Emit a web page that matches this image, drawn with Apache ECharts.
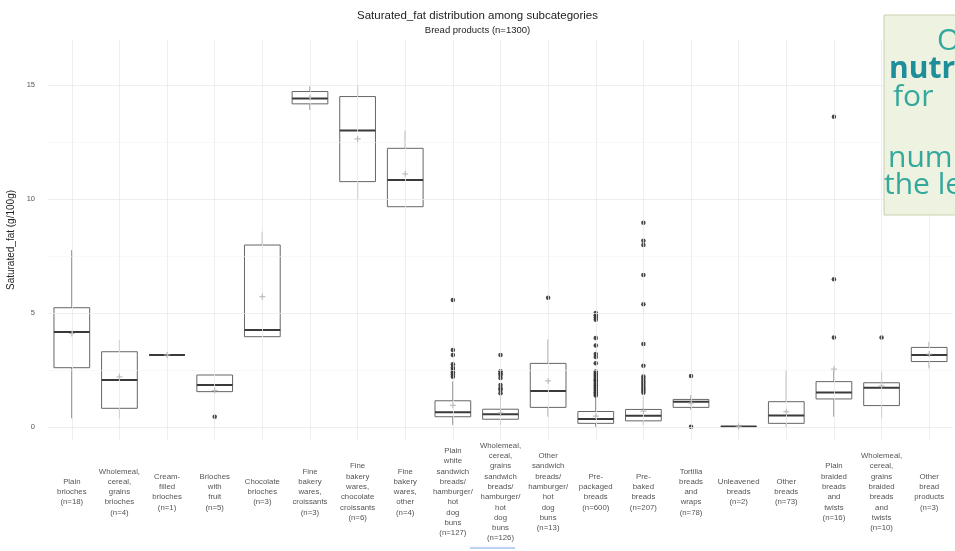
<!DOCTYPE html>
<html>
<head>
<meta charset="utf-8">
<script src="https://cdn.jsdelivr.net/npm/echarts@6/dist/echarts.min.js"></script>
<style>
  html, body { margin: 0; padding: 0; background: #ffffff; }
  #chart { width: 955px; height: 551px; }
</style>
</head>
<body>
<div id="chart"></div>
<script>
// Subcategory labels (with sample size) shown under the x axis
const categories = [
  'Plain\nbrioches\n(n=18)',
  'Wholemeal,\ncereal,\ngrains\nbrioches\n(n=4)',
  'Cream-\nfilled\nbrioches\n(n=1)',
  'Brioches\nwith\nfruit\n(n=5)',
  'Chocolate\nbrioches\n(n=3)',
  'Fine\nbakery\nwares,\ncroissants\n(n=3)',
  'Fine\nbakery\nwares,\nchocolate\ncroissants\n(n=6)',
  'Fine\nbakery\nwares,\nother\n(n=4)',
  'Plain\nwhite\nsandwich\nbreads/\nhamburger/\nhot\ndog\nbuns\n(n=127)',
  'Wholemeal,\ncereal,\ngrains\nsandwich\nbreads/\nhamburger/\nhot\ndog\nbuns\n(n=126)',
  'Other\nsandwich\nbreads/\nhamburger/\nhot\ndog\nbuns\n(n=13)',
  'Pre-\npackaged\nbreads\n(n=600)',
  'Pre-\nbaked\nbreads\n(n=207)',
  'Tortilla\nbreads\nand\nwraps\n(n=78)',
  'Unleavened\nbreads\n(n=2)',
  'Other\nbreads\n(n=73)',
  'Plain\nbraided\nbreads\nand\ntwists\n(n=16)',
  'Wholemeal,\ncereal,\ngrains\nbraided\nbreads\nand\ntwists\n(n=10)',
  'Other\nbread\nproducts\n(n=3)'
];

// Five-number summaries per subcategory (g/100g)
const whiskerLow  = [0.38, 0.38, 3.16, 1.55, 3.96, 13.90,  9.96,  9.66, 0.09, 0.09, 0.45, 0.01, 0.09, 0.75, 0.02, 0.00, 0.45, 0.38, 2.57];
const quartile1   = [2.60, 0.82, 3.16, 1.55, 3.96, 14.17, 10.76,  9.66, 0.45, 0.34, 0.86, 0.16, 0.27, 0.86, 0.02, 0.16, 1.23, 0.94, 2.87];
const medians     = [4.17, 2.06, 3.16, 1.84, 4.25, 14.41, 13.00, 10.83, 0.65, 0.56, 1.58, 0.35, 0.49, 1.11, 0.02, 0.50, 1.51, 1.72, 3.16];
const quartile3   = [5.23, 3.30, 3.16, 2.28, 7.98, 14.71, 14.49, 12.22, 1.15, 0.78, 2.79, 0.68, 0.77, 1.21, 0.02, 1.11, 1.99, 1.94, 3.49];
const whiskerHigh = [7.76, 3.82, 3.16, 2.28, 8.57, 14.93, 15.00, 13.00, 2.00, 1.35, 3.85, 1.33, 1.35, 1.40, 0.02, 2.50, 2.50, 2.43, 3.74];
const means       = [4.10, 2.20, 3.16, 1.60, 5.72, 14.45, 12.63, 11.10, 0.95, 0.62, 2.02, 0.48, 0.70, 1.05, 0.02, 0.67, 2.54, 1.80, 3.20];

// Outlying products per subcategory (index into categories)
const outlierCategory = [
  3,
  8, 8, 8, 8, 8, 8, 8, 8, 8,
  9, 9, 9, 9, 9, 9, 9, 9, 9,
  10,
  11, 11, 11, 11, 11, 11, 11, 11, 11, 11, 11, 11, 11, 11, 11, 11, 11, 11, 11, 11, 11, 11, 11, 11,
  12, 12, 12, 12, 12, 12, 12, 12, 12, 12, 12, 12, 12, 12, 12,
  13, 13,
  16, 16, 16,
  17
];
const outlierValue = [
  0.45,
  5.57, 3.38, 3.16, 2.75, 2.60, 2.50, 2.40, 2.30, 2.20,
  3.16, 2.45, 2.35, 2.28, 2.15, 1.84, 1.70, 1.62, 1.48,
  5.67,
  5.00, 4.90, 4.80, 4.70, 3.90, 3.57, 3.20, 3.07, 2.80, 2.43, 2.35, 2.28, 2.20, 2.12, 2.05, 1.98, 1.90, 1.82, 1.75, 1.68, 1.60, 1.52, 1.45, 1.38,
  8.96, 8.17, 7.98, 6.67, 5.38, 3.64, 2.69, 2.21, 2.10, 2.00, 1.90, 1.80, 1.70, 1.60, 1.50,
  2.24, 0.01,
  13.60, 6.48, 3.93,
  3.93
];

// Axis ticks and gridlines
const yMajorTicks = [0, 5, 10, 15];
const yMinorTicks = [2.5, 7.5, 12.5];

const boxData = categories.map((c, i) =>
  [i, whiskerLow[i], quartile1[i], medians[i], quartile3[i], whiskerHigh[i]]);
const meanData = categories.map((c, i) => [i, means[i]]);
const outlierData = outlierValue.map((v, k) => [outlierCategory[k], v]);

const chart = echarts.init(document.getElementById('chart'), null, { renderer: 'canvas' });

// Box, whiskers and median bar for one subcategory
function renderBox(params, api) {
  const x = api.value(0);
  const lo = api.coord([x, api.value(1)]);
  const q1 = api.coord([x, api.value(2)]);
  const md = api.coord([x, api.value(3)]);
  const q3 = api.coord([x, api.value(4)]);
  const hi = api.coord([x, api.value(5)]);
  const bw = api.size([1, 0])[0] * 0.75;
  const cx = md[0];
  const left = cx - bw / 2;
  const boxStroke = '#666666';
  return {
    type: 'group',
    children: [
      { type: 'line', shape: { x1: cx, y1: hi[1], x2: cx, y2: q3[1] },
        style: { stroke: boxStroke, lineWidth: 0.9 } },
      { type: 'line', shape: { x1: cx, y1: q1[1], x2: cx, y2: lo[1] },
        style: { stroke: boxStroke, lineWidth: 0.9 } },
      { type: 'rect', shape: { x: left, y: q3[1], width: bw, height: Math.max(q1[1] - q3[1], 0) },
        style: { fill: '#ffffff', stroke: boxStroke, lineWidth: 1 } },
      { type: 'line', shape: { x1: left, y1: md[1], x2: left + bw, y2: md[1] },
        style: { stroke: '#3a3a3a', lineWidth: 2 } }
    ]
  };
}

const gridLineStyle = { color: '#eaeaea', width: 0.8, type: 'solid' };
const minorLineStyle = { color: '#f4f4f4', width: 0.6, type: 'solid' };

chart.setOption({
  animation: false,
  backgroundColor: '#ffffff',
  title: {
    text: 'Saturated_fat distribution among subcategories',
    subtext: 'Bread products (n=1300)',
    left: 'center',
    top: 5,
    itemGap: 3,
    textStyle: { fontFamily: 'Liberation Sans', fontSize: 11.5, fontWeight: 'normal', color: '#222222' },
    subtextStyle: { fontFamily: 'Liberation Sans', fontSize: 9.5, color: '#222222' }
  },
  grid: { left: 48, right: 2, top: 40, bottom: 111, containLabel: false, outerBoundsMode: 'none' },
  xAxis: {
    type: 'category',
    data: categories,
    boundaryGap: true,
    axisLine: { show: false },
    axisTick: { show: false },
    splitLine: { show: false },
    axisLabel: {
      interval: 0,
      hideOverlap: false,
      fontFamily: 'Liberation Sans',
      fontSize: 7.8,
      lineHeight: 10.3,
      color: '#555555',
      verticalAlign: 'middle',
      align: 'center',
      margin: 52
    }
  },
  yAxis: {
    type: 'value',
    min: -0.57,
    max: 16.97,
    splitNumber: 4,
    name: 'Saturated_fat (g/100g)',
    nameLocation: 'middle',
    nameRotate: 90,
    nameGap: 30,
    nameTextStyle: { fontFamily: 'Liberation Sans', fontSize: 10, color: '#222222' },
    axisLine: { show: false },
    axisTick: { show: false },
    splitLine: { show: false },
    axisLabel: {
      fontFamily: 'Liberation Sans',
      fontSize: 7.5,
      color: '#555555',
      margin: 13,
      showMinLabel: false,
      showMaxLabel: false,
      formatter: v => (yMajorTicks.indexOf(Math.round(v * 100) / 100) >= 0 ? String(Math.round(v)) : '')
    }
  },
  series: [
    {
      name: 'grid',
      type: 'line',
      data: [],
      silent: true,
      markLine: {
        silent: true,
        symbol: 'none',
        label: { show: false },
        animation: false,
        data: [
          ...yMinorTicks.map(v => ({ yAxis: v, lineStyle: minorLineStyle })),
          ...yMajorTicks.map(v => ({ yAxis: v, lineStyle: gridLineStyle })),
          ...categories.map(c => ({ xAxis: c, lineStyle: gridLineStyle }))
        ]
      }
    },
    {
      name: 'boxes',
      type: 'custom',
      renderItem: renderBox,
      data: boxData,
      encode: { x: 0, y: [1, 2, 3, 4, 5] },
      z: 3
    },
    {
      name: 'outliers',
      type: 'scatter',
      data: outlierData,
      symbol: 'circle',
      symbolSize: 4.5,
      itemStyle: { color: '#333333', opacity: 0.9 },
      z: 4
    },
    {
      name: 'means',
      type: 'scatter',
      data: meanData,
      symbol: 'path://M4,0 L6,0 L6,4 L10,4 L10,6 L6,6 L6,10 L4,10 L4,6 L0,6 L0,4 L4,4 Z',
      symbolSize: 6,
      itemStyle: { color: '#b0b0b0' },
      z: 5
    }
  ],
  graphic: [
    {
      type: 'rect',
      shape: { x: 884, y: 15, width: 80, height: 200 },
      style: { fill: '#eef2e1', stroke: '#c9d2ad', lineWidth: 1 },
      z: 100
    },
    { type: 'text', x: 937, y: 41, z: 101,
      style: { text: 'Outliers', fill: '#34a89c', font: '30px "Open Sans"', verticalAlign: 'middle' } },
    { type: 'text', x: 889, y: 69, z: 101,
      style: { text: 'nutrient', fill: '#1d8e9a', font: 'bold 30px "Open Sans"', verticalAlign: 'middle' } },
    { type: 'text', x: 893, y: 97, z: 101,
      style: { text: 'for', fill: '#34a89c', font: '30px "Open Sans"', verticalAlign: 'middle' } },
    { type: 'text', x: 888, y: 158, z: 101,
      style: { text: 'numbers', fill: '#34a89c', font: '30px "Open Sans"', verticalAlign: 'middle' } },
    { type: 'text', x: 884, y: 185, z: 101,
      style: { text: 'the levels', fill: '#34a89c', font: '30px "Open Sans"', verticalAlign: 'middle' } },
    {
      type: 'line',
      shape: { x1: 470, y1: 548, x2: 515, y2: 548 },
      style: { stroke: '#a9c3ee', lineWidth: 1.5 },
      z: 100
    }
  ]
});
</script>
</body>
</html>
